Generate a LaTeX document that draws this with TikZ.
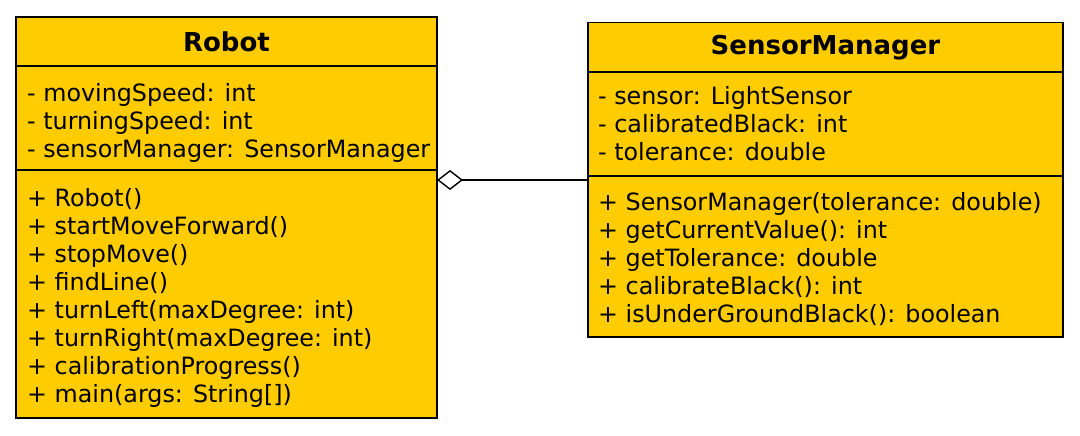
\documentclass[tikz,border=0pt]{standalone}
\usepackage{fontspec}
\setmainfont{DejaVu Sans}
\usetikzlibrary{positioning,arrows.meta}
\definecolor{umlyellow}{HTML}{FFCC00}
\begin{document}
\begin{tikzpicture}[x=1pt,y=1pt,
  compart/.style={draw=black, fill=umlyellow, line width=1.4pt, outer sep=0pt, inner sep=0pt},
  classname/.style={compart, font=\bfseries\fontsize{26}{30}\selectfont},
  members/.style={font=\fontsize{23.8}{28}\selectfont, align=left, anchor=north west, inner sep=0pt,
    execute at begin node={\rule{0pt}{24pt}}},
  aggregation/.style={line width=1.4pt, {Diamond[open, length=26pt, width=20pt]}-}]
\useasboundingbox (0,0) rectangle (1080,-436);
% class Robot
\node [classname, anchor=north west, minimum width=421, minimum height=49] (robot) at (16,-17) {Robot};
\node [compart, below=0pt of robot, minimum width=421, minimum height=104] (robot attrs) {};
\node [compart, below=0pt of robot attrs, minimum width=421, minimum height=248] (robot ops) {};
\node [members] (robot attr text) at ([shift={(11,-17)}]robot attrs.north west)
  {- movingSpeed: int\\- turningSpeed: int\\- sensorManager: SensorManager};
\node [members] (robot op text) at ([shift={(11,-18)}]robot ops.north west)
  {+ Robot()\\+ startMoveForward()\\+ stopMove()\\+ findLine()\\+ turnLeft(maxDegree: int)\\+ turnRight(maxDegree: int)\\+ calibrationProgress()\\+ main(args: String[])};
% class SensorManager
\node [classname, anchor=north west, minimum width=475, minimum height=49.5] (sensormgr) at (588,-22.5) {SensorManager};
\node [compart, below=0pt of sensormgr, minimum width=475, minimum height=104] (sensormgr attrs) {};
\node [compart, below=0pt of sensormgr attrs, minimum width=475, minimum height=161] (sensormgr ops) {};
\node [members] (sensormgr attr text) at ([shift={(10,-14.5)}]sensormgr attrs.north west)
  {- sensor: LightSensor\\- calibratedBlack: int\\- tolerance: double};
\node [members] (sensormgr op text) at ([shift={(10,-16)}]sensormgr ops.north west)
  {+ SensorManager(tolerance: double)\\+ getCurrentValue(): int\\+ getTolerance: double\\+ calibrateBlack(): int\\+ isUnderGroundBlack(): boolean};
% aggregation
\draw [aggregation] ([yshift=-10]robot ops.north east) coordinate (agg) -- (agg -| sensormgr ops.west);
\end{tikzpicture}
\end{document}
